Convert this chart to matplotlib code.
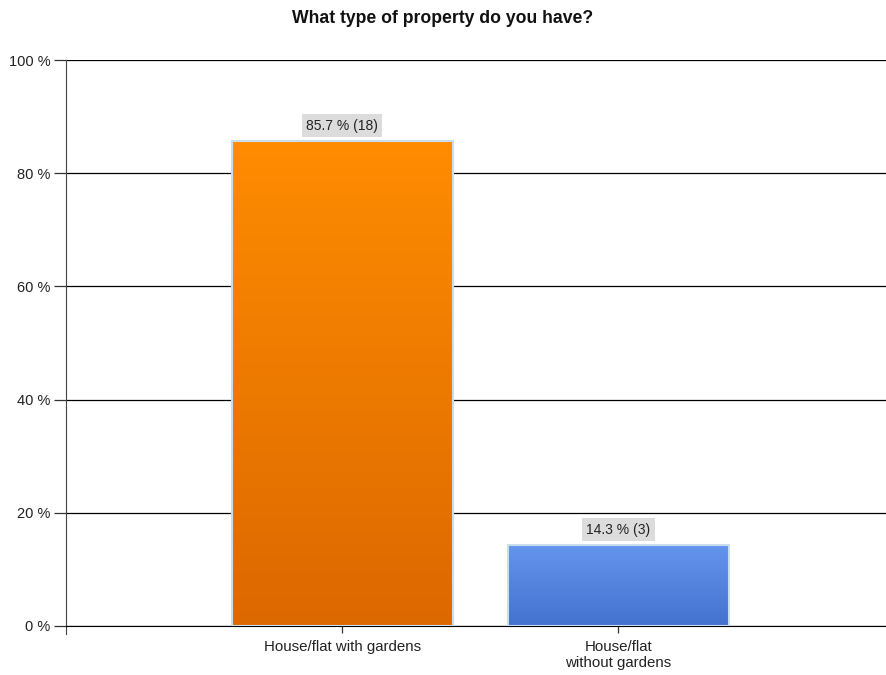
import numpy as np
import matplotlib.pyplot as plt
from matplotlib.colors import LinearSegmentedColormap

categories = ["House/flat with gardens", "House/flat\nwithout gardens"]
percentages = [85.7, 14.3]
counts = [18, 3]
top_colors = ["#FF8C00", "#6495ED"]
bottom_colors = ["#DC6800", "#4471CF"]
yticks = [0, 20, 40, 60, 80, 100]

plt.rcParams['font.family'] = ['Liberation Sans', 'DejaVu Sans']

fig = plt.figure(figsize=(8.86, 6.75), dpi=100)
ax = fig.add_axes([0.0745, 0.0726, 0.9255, 0.8385])

x = np.arange(len(categories))
bars = ax.bar(x, percentages, width=0.8, color="none",
              edgecolor="#C9DDF0", linewidth=1.5, zorder=3)

# vertical gradient fill for each bar
for bar, c_top, c_bot in zip(bars, top_colors, bottom_colors):
    cmap = LinearSegmentedColormap.from_list("g", [c_bot, c_top])
    grad = np.linspace(0, 1, 256).reshape(-1, 1)
    x0, w, h = bar.get_x(), bar.get_width(), bar.get_height()
    ax.imshow(grad, cmap=cmap, origin="lower", aspect="auto",
              extent=[x0, x0 + w, 0, h], zorder=2)

for xi, pct, n in zip(x, percentages, counts):
    ax.text(xi, pct + 2.7, f"{pct:.1f} % ({n})", ha="center", va="center",
            fontsize=10, color="#222222", zorder=4,
            bbox=dict(boxstyle="square,pad=0.32", fc="#DCDCDC", ec="none"))

ax.set_xlim(-1, 1.97)
ax.set_ylim(0, 100)
ax.set_yticks(yticks)
ax.set_yticklabels([f"{v} %" for v in yticks], fontsize=10.5, color="#222222")
ax.set_xticks(x)
ax.set_xticklabels(categories, fontsize=10.8, color="#222222", linespacing=1.15)

ax.yaxis.grid(True, color="black", linewidth=0.9, zorder=1)
ax.set_axisbelow(True)
ax.tick_params(axis="y", length=9, width=0.9, color="#333333", pad=2)
ax.tick_params(axis="x", length=5, width=0.9, color="#333333", pad=5)

for side in ["top", "right"]:
    ax.spines[side].set_visible(False)
ax.spines["left"].set_color("#444444")
ax.spines["bottom"].set_color("black")
ax.spines["left"].set_bounds(-1.5, 100)

fig.suptitle("What type of property do you have?", x=0.5, y=0.985,
             fontsize=12.7, fontweight="bold", color="#111111")

fig.savefig("out.png", dpi=100)
